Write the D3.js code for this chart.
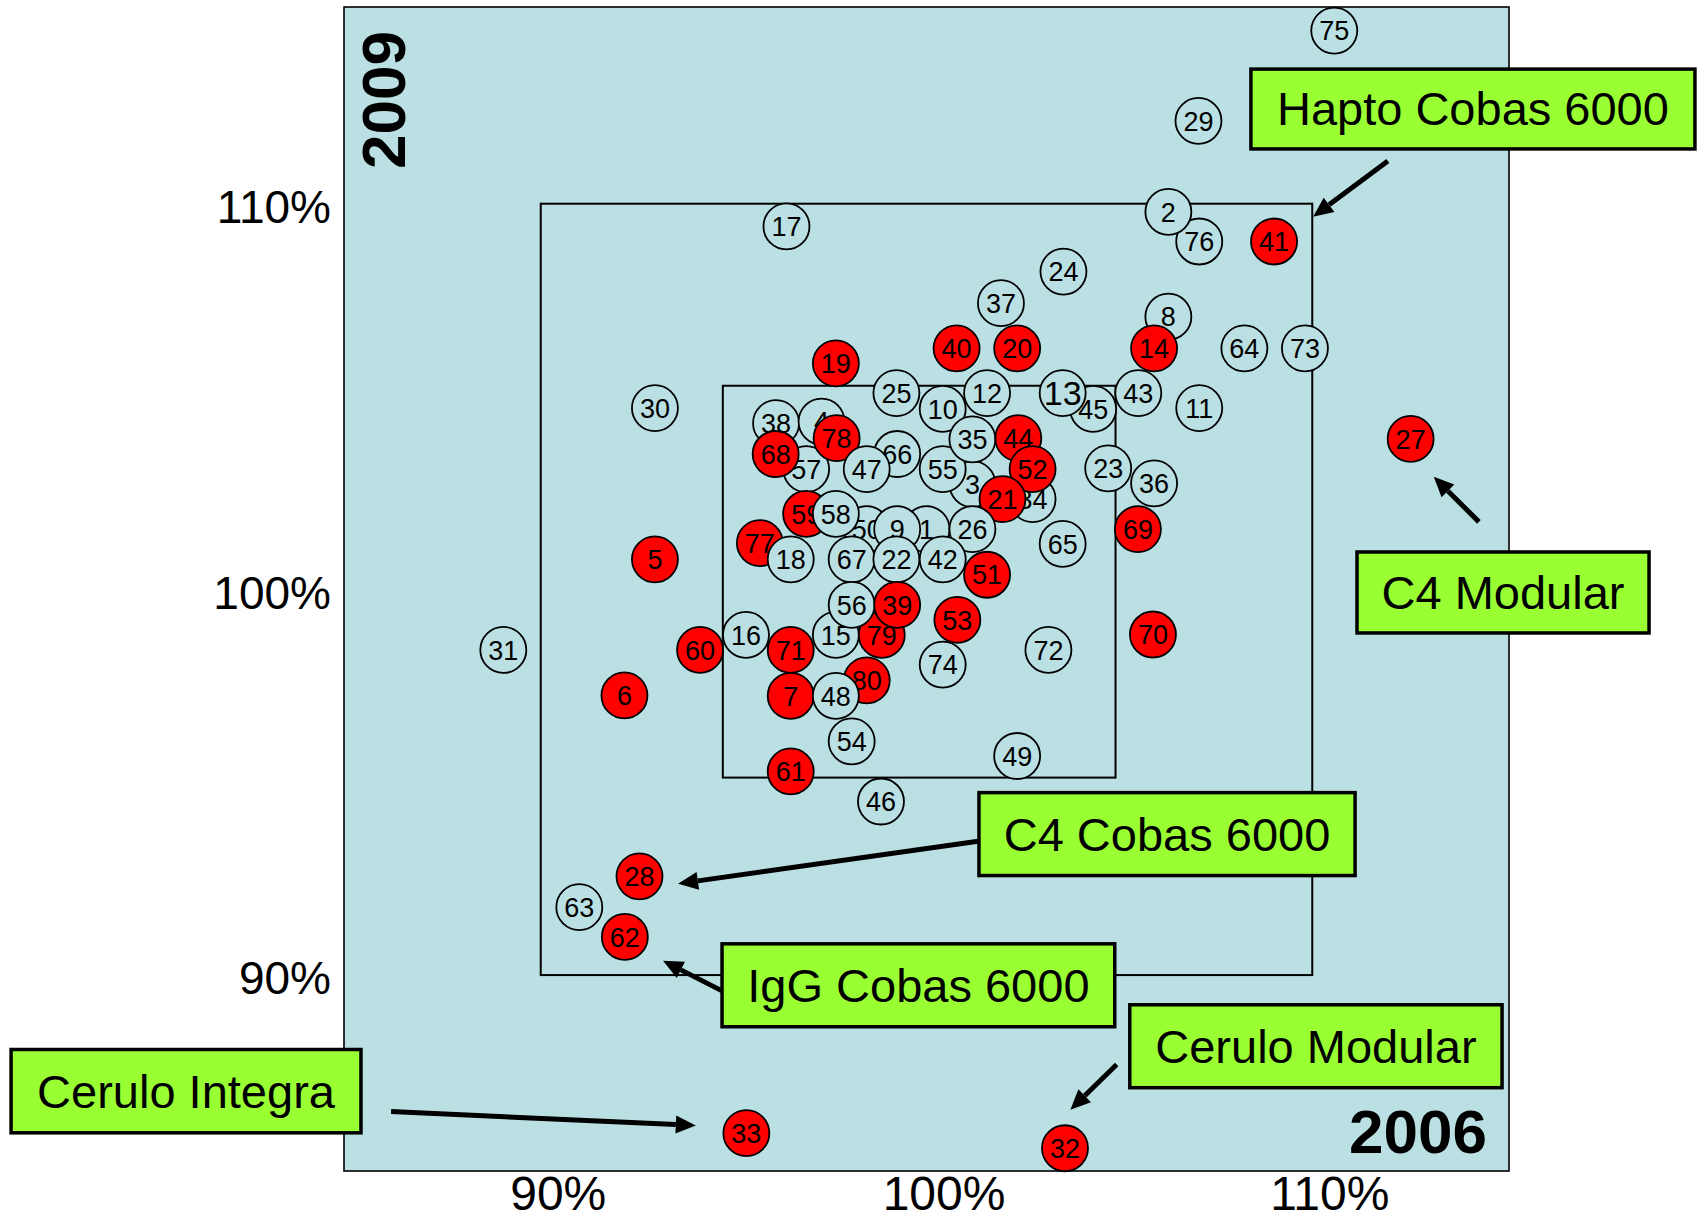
<!DOCTYPE html>
<html>
<head>
<meta charset="utf-8">
<script src="https://cdn.jsdelivr.net/npm/d3@7"></script>
<style>
  html, body { margin: 0; padding: 0; background: #ffffff; }
  svg { display: block; font-family: "Liberation Sans", Arial, Helvetica, sans-serif; }
</style>
</head>
<body>
<svg id="chart" width="1704" height="1220"></svg>
<script>
// Laboratory numbers, listed in drawing order (later circles sit on top)
const labs = [75, 29, 17, 24, 37, 8, 14, 76, 2, 41,
              64, 73, 19, 40, 20, 30, 25, 10, 12, 45,
              13, 43, 11, 27, 38, 4, 57, 68, 78, 66,
              3, 47, 55, 35, 34, 44, 52, 21, 23, 36,
              59, 50, 58, 1, 9, 26, 65, 69, 77, 18,
              67, 22, 42, 51, 5, 15, 79, 56, 39, 53,
              70, 31, 60, 16, 71, 74, 72, 6, 80, 7,
              48, 54, 49, 61, 46, 28, 63, 62, 33, 32];

// Result as % of target, 2006 survey (horizontal)
const result2006 = [110.57, 107.05, 96.37, 103.55, 101.93, 106.27, 105.90, 107.07, 106.27, 109.01,
                    108.24, 109.81, 97.65, 100.78, 102.35, 92.96, 99.22, 100.42, 101.57, 104.32,
                    103.53, 105.49, 107.07, 112.55, 96.10, 97.28, 96.88, 96.09, 97.67, 99.24,
                    101.19, 98.45, 100.42, 101.19, 102.75, 102.38, 102.75, 101.97, 104.71, 105.90,
                    96.88, 98.45, 97.65, 100.00, 99.24, 101.19, 103.53, 105.48, 95.68, 96.48,
                    98.06, 99.22, 100.42, 101.57, 92.96, 97.65, 98.84, 98.06, 99.24, 100.80,
                    105.87, 89.03, 94.13, 95.32, 96.48, 100.42, 103.16, 92.17, 98.45, 96.48,
                    97.65, 98.06, 102.35, 96.48, 98.82, 92.56, 91.00, 92.18, 95.33, 103.59];

// Result as % of target, 2009 survey (vertical)
const result2009 = [114.49, 112.15, 109.41, 108.24, 107.42, 107.07, 106.25, 109.02, 109.79, 109.02,
                    106.25, 106.25, 105.86, 106.25, 106.25, 104.70, 105.09, 104.68, 105.09, 104.68,
                    105.09, 105.09, 104.70, 103.90, 104.31, 104.35, 103.12, 103.51, 103.92, 103.51,
                    102.73, 103.12, 103.12, 103.89, 102.34, 103.92, 103.12, 102.34, 103.14, 102.75,
                    101.96, 101.56, 101.96, 101.56, 101.56, 101.56, 101.18, 101.56, 101.20, 100.78,
                    100.78, 100.78, 100.78, 100.38, 100.78, 98.82, 98.82, 99.60, 99.60, 99.21,
                    98.83, 98.43, 98.43, 98.82, 98.43, 98.05, 98.43, 97.25, 97.64, 97.24,
                    97.24, 96.06, 95.68, 95.28, 94.50, 92.56, 91.76, 90.99, 85.90, 85.51];

// 1 = flagged laboratory (filled red)
const flagged = [0, 0, 0, 0, 0, 0, 1, 0, 0, 1,
                 0, 0, 1, 1, 1, 0, 0, 0, 0, 0,
                 0, 0, 0, 1, 0, 0, 0, 1, 1, 0,
                 0, 0, 0, 0, 0, 1, 1, 1, 0, 0,
                 1, 0, 0, 0, 0, 0, 0, 1, 1, 0,
                 0, 0, 0, 1, 1, 0, 1, 0, 1, 1,
                 1, 0, 1, 0, 1, 0, 0, 1, 1, 1,
                 0, 0, 0, 1, 0, 1, 0, 1, 1, 1];

// Acceptance limits drawn as nested squares: [low, high] per axis
const limitsX = [[90, 110], [94.72, 104.9]];
const limitsY = [[90, 110], [95.12, 105.28]];

// Axis ticks
const tickValues = [90, 100, 110];
const tickLabels = ["90%", "100%", "110%"];

// Callouts naming the outlying methods
const calloutText = ["Hapto Cobas 6000", "C4 Modular", "C4 Cobas 6000",
                     "IgG Cobas 6000", "Cerulo Modular", "Cerulo Integra"];

// Callout placement in axis units: box [x0, x1, yTop, yBottom], arrow from -> to
const calloutBox = [[108.41, 119.92, 113.49, 111.42],
                    [111.16, 118.73, 100.97, 98.87],
                    [101.36, 111.11, 94.73, 92.58],
                    [94.70, 104.88, 90.81, 88.66],
                    [105.27, 114.92, 89.23, 87.08],
                    [76.27, 85.34, 88.07, 85.91]];
const calloutArrow = [[[111.96, 111.11], [110.02, 109.66]],
                      [[114.32, 101.75], [113.15, 102.92]],
                      [[101.75, 93.53], [93.56, 92.37]],
                      [[94.70, 89.59], [93.17, 90.37]],
                      [[104.93, 87.68], [103.73, 86.51]],
                      [[86.12, 86.46], [94.02, 86.10]]];

// ---------------------------------------------------------------
const svg = d3.select("#chart");

const plot = { left: 344, right: 1509, top: 7, bottom: 1171 };
const x = d3.scaleLinear().domain([84.9, 115.1]).range([plot.left, plot.right]);
const y = d3.scaleLinear().domain([84.92, 115.1]).range([plot.bottom, plot.top]);

const BG = "#bbe0e3";
const RED = "#ff0000";
const LIME = "#99ff33";
const R = 23;

// Plot background
svg.append("rect")
  .attr("x", plot.left).attr("y", plot.top)
  .attr("width", plot.right - plot.left).attr("height", plot.bottom - plot.top)
  .attr("fill", BG).attr("stroke", "#000").attr("stroke-width", 1.6);

// Acceptance squares
svg.append("g").selectAll("rect")
  .data(d3.range(limitsX.length))
  .join("rect")
  .attr("x", i => x(limitsX[i][0]))
  .attr("y", i => y(limitsY[i][1]))
  .attr("width", i => x(limitsX[i][1]) - x(limitsX[i][0]))
  .attr("height", i => y(limitsY[i][0]) - y(limitsY[i][1]))
  .attr("fill", "none").attr("stroke", "#000").attr("stroke-width", 2);

// Axes
const xAxis = svg.append("g")
  .attr("transform", `translate(0,${plot.bottom})`)
  .call(d3.axisBottom(x).tickValues(tickValues).tickFormat((d, i) => tickLabels[i]).tickSize(0).tickPadding(5));
xAxis.select(".domain").remove();
xAxis.selectAll("text")
  .attr("font-size", 48).attr("fill", "#000")
  .attr("font-family", "'Liberation Sans', Arial, sans-serif")
  .attr("dx", 17);

const yAxis = svg.append("g")
  .attr("transform", `translate(${plot.left},0)`)
  .call(d3.axisLeft(y).tickValues(tickValues).tickFormat((d, i) => tickLabels[i]).tickSize(0).tickPadding(13));
yAxis.select(".domain").remove();
yAxis.selectAll("text")
  .attr("font-size", 46).attr("fill", "#000")
  .attr("font-family", "'Liberation Sans', Arial, sans-serif")
  .attr("y", 4);

// Laboratory circles
const pts = svg.append("g").selectAll("g")
  .data(d3.range(labs.length))
  .join("g")
  .attr("transform", i => `translate(${x(result2006[i])},${y(result2009[i])})`);

pts.append("circle")
  .attr("r", R)
  .attr("fill", i => flagged[i] ? RED : BG)
  .attr("stroke", "#000").attr("stroke-width", 1.8);

pts.append("text")
  .attr("text-anchor", "middle")
  .attr("dy", "0.36em")
  .attr("font-size", i => labs[i] === 13 ? 34 : 27)
  .attr("fill", "#000")
  .text(i => labs[i]);

// Survey year captions
svg.append("text")
  .attr("transform", `translate(${plot.left + 61},${plot.top + 93}) rotate(-90)`)
  .attr("text-anchor", "middle")
  .attr("font-size", 62).attr("font-weight", "bold")
  .text("2009");

svg.append("text")
  .attr("x", plot.right - 22).attr("y", plot.bottom - 18)
  .attr("text-anchor", "end")
  .attr("font-size", 62).attr("font-weight", "bold")
  .text("2006");

// Callout arrows
const arrows = svg.append("g");
calloutArrow.forEach(([from, to]) => {
  const x0 = x(from[0]), y0 = y(from[1]);
  const x1 = x(to[0]), y1 = y(to[1]);
  const ang = Math.atan2(y1 - y0, x1 - x0);
  const headLen = 20, headHalf = 9;
  const bx = x1 - headLen * Math.cos(ang), by = y1 - headLen * Math.sin(ang);
  arrows.append("line")
    .attr("x1", x0).attr("y1", y0).attr("x2", bx).attr("y2", by)
    .attr("stroke", "#000").attr("stroke-width", 5);
  const px = -Math.sin(ang) * headHalf, py = Math.cos(ang) * headHalf;
  arrows.append("path")
    .attr("d", `M${x1},${y1}L${bx + px},${by + py}L${bx - px},${by - py}Z`)
    .attr("fill", "#000");
});

// Callout boxes
const boxes = svg.append("g").selectAll("g")
  .data(d3.range(calloutText.length))
  .join("g");

boxes.append("rect")
  .attr("x", i => x(calloutBox[i][0]))
  .attr("y", i => y(calloutBox[i][2]))
  .attr("width", i => x(calloutBox[i][1]) - x(calloutBox[i][0]))
  .attr("height", i => y(calloutBox[i][3]) - y(calloutBox[i][2]))
  .attr("fill", LIME).attr("stroke", "#000").attr("stroke-width", 3.5);

boxes.append("text")
  .attr("x", i => (x(calloutBox[i][0]) + x(calloutBox[i][1])) / 2)
  .attr("y", i => (y(calloutBox[i][2]) + y(calloutBox[i][3])) / 2)
  .attr("dy", "0.35em")
  .attr("text-anchor", "middle")
  .attr("font-size", 47).attr("fill", "#000")
  .text(i => calloutText[i]);
</script>
</body>
</html>
